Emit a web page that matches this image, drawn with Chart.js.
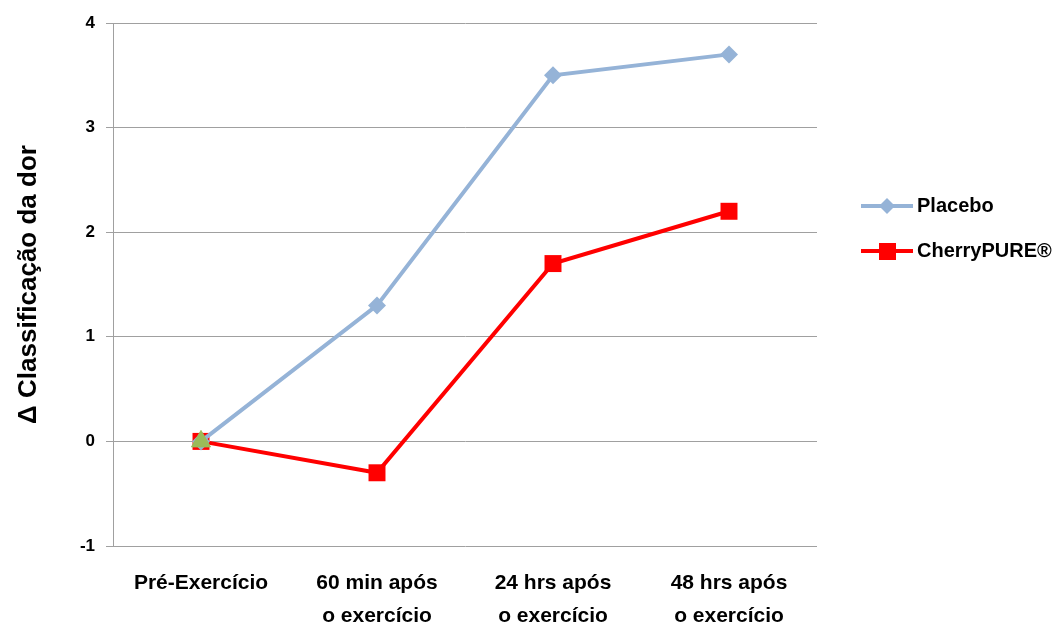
<!DOCTYPE html>
<html>
<head>
<meta charset="utf-8">
<script src="https://cdn.jsdelivr.net/npm/chart.js@4.4.0/dist/chart.umd.min.js"></script>
<style>
  body { margin: 0; background: #fff; }
  #wrap { width: 1056px; height: 627px; }
</style>
</head>
<body>
<div id="wrap"><canvas id="lineChart" width="1056" height="627"></canvas></div>
<script>
var categories = [["Pré-Exercício"], ["60 min após", "o exercício"], ["24 hrs após", "o exercício"], ["48 hrs após", "o exercício"]];
var placebo = [0, 1.3, 3.5, 3.7];
var cherry = [0, -0.3, 1.7, 2.2];
var baseline = [0, null, null, null];
var yTicks = [-1, 0, 1, 2, 3, 4];
var seriesNames = ["Placebo", "CherryPURE®"];

var FONT = "'Liberation Sans', Arial, sans-serif";
var GRID = "#a0a0a0";
var BLUE = "#95b3d7";
var RED = "#ff0000";

// legend drawn by hand, to the right of the plot
var sideLegend = {
    id: "sideLegend",
    afterDraw: function(chart) {
        var ctx = chart.ctx;
        var items = [
            { name: seriesNames[0], color: BLUE, y: 206, shape: "diamond" },
            { name: seriesNames[1], color: RED, y: 251, shape: "square" }
        ];
        ctx.save();
        items.forEach(function(it) {
            ctx.strokeStyle = it.color;
            ctx.lineWidth = 4;
            ctx.beginPath();
            ctx.moveTo(861, it.y);
            ctx.lineTo(913, it.y);
            ctx.stroke();
            ctx.fillStyle = it.color;
            if (it.shape == "diamond") {
                ctx.beginPath();
                ctx.moveTo(887, it.y - 8);
                ctx.lineTo(895, it.y);
                ctx.lineTo(887, it.y + 8);
                ctx.lineTo(879, it.y);
                ctx.closePath();
                ctx.fill();
            } else {
                ctx.fillRect(879, it.y - 8, 17, 17);
            }
            ctx.fillStyle = "#000";
            ctx.font = "bold 20px " + FONT;
            ctx.textBaseline = "middle";
            ctx.fillText(it.name, 917, it.y);
        });
        ctx.restore();
    }
};

var CHART = document.getElementById("lineChart");
var lineChart = new Chart(CHART, {
    type: "line",
    data: {
        labels: categories,
        datasets: [
            {
                label: "Série 3",
                data: baseline,
                order: 0,
                showLine: false,
                pointStyle: "triangle",
                pointRadius: 11,
                backgroundColor: "#9bbb59",
                borderColor: "#9bbb59",
                borderWidth: 1
            },
            {
                label: seriesNames[0],
                data: placebo,
                order: 1,
                borderColor: BLUE,
                backgroundColor: BLUE,
                borderWidth: 4,
                pointStyle: "rectRot",
                pointRadius: 9,
                pointBorderWidth: 0,
                tension: 0
            },
            {
                label: seriesNames[1],
                data: cherry,
                order: 2,
                borderColor: RED,
                backgroundColor: RED,
                borderWidth: 4,
                pointStyle: "rect",
                pointRadius: 12,
                pointBorderWidth: 0,
                tension: 0
            }
        ]
    },
    options: {
        responsive: false,
        animation: false,
        layout: { padding: { left: 0, right: 239, top: 23, bottom: 0 } },
        plugins: {
            legend: { display: false },
            tooltip: { enabled: false }
        },
        scales: {
            x: {
                offset: true,
                grid: { display: false, drawTicks: false },
                border: { display: false },
                ticks: {
                    color: "#000",
                    padding: 21,
                    maxRotation: 0,
                    autoSkip: false,
                    font: { family: FONT, size: 21, weight: "bold", lineHeight: 1.57 }
                },
                afterFit: function(scale) { scale.height = 81; }
            },
            y: {
                min: -1,
                max: 4,
                afterBuildTicks: function(scale) {
                    scale.ticks = yTicks.map(function(v) { return { value: v }; });
                },
                grid: { color: GRID, lineWidth: 1, tickLength: 7 },
                border: { display: true, color: GRID, width: 1 },
                ticks: {
                    color: "#000",
                    padding: 11,
                    font: { family: FONT, size: 17, weight: "bold" }
                },
                title: {
                    display: true,
                    text: "Δ Classificação da dor",
                    color: "#000",
                    padding: { top: 13, bottom: 0 },
                    font: { family: FONT, size: 26, weight: "bold" }
                },
                afterFit: function(scale) { scale.width = 113; }
            }
        }
    },
    plugins: [sideLegend]
});
</script>
</body>
</html>
